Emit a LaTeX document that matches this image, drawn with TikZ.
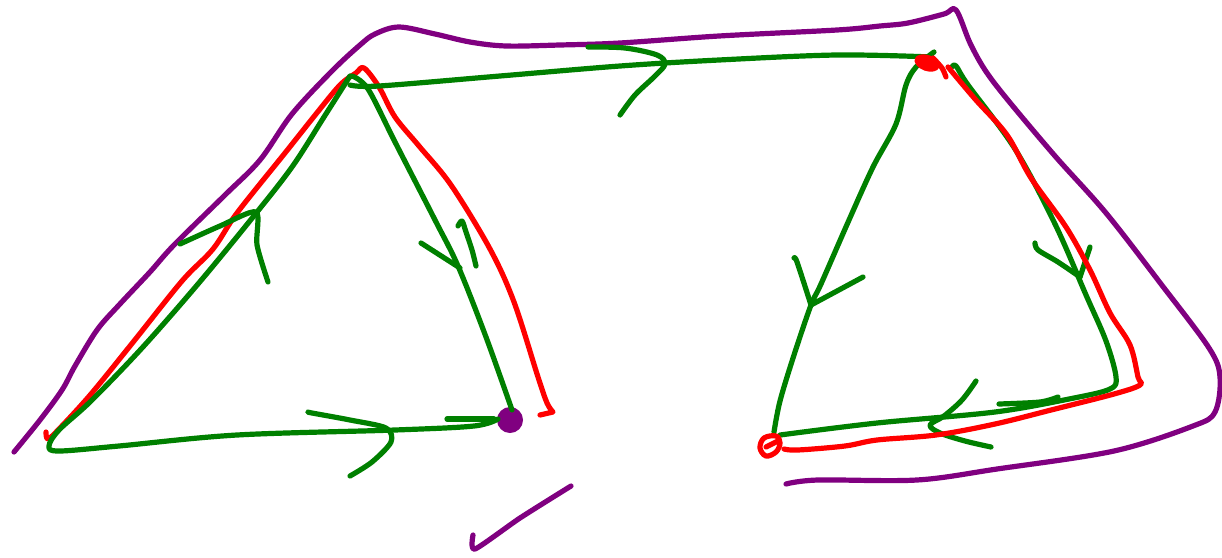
\documentclass[tikz,border=0pt]{standalone}
\definecolor{pgreen}{RGB}{0,128,0}
\definecolor{pred}{RGB}{255,0,0}
\definecolor{ppurple}{RGB}{128,0,128}
\tikzset{
  ink/.style={line width=5.2pt, line cap=round, line join=round},
  gstroke/.style={ink, draw=pgreen},
  rstroke/.style={ink, draw=pred},
  pstroke/.style={ink, draw=ppurple},
}
\begin{document}
\begin{tikzpicture}[x=1pt,y=-1pt]
\useasboundingbox[fill=white] (0,0) rectangle (1222,557);
% purple outline
\draw[pstroke] plot[smooth,tension=0.55] coordinates {(14,452) (40,420) (62,390) (75,366) (97,330) (119,305) (150,272) (174,245) (225,195) (260,160) (292,114) (332,71) (360,45) (375,34) (399,27) (435,34) (470,42) (506,46) (560,45) (620,43) (719,36) (837,30) (880,26) (908,23) (944,14) (956,10) (970,43) (985,70) (1007,99) (1055,156) (1106,213) (1161,284) (1209,348) (1220,377) (1215,412) (1193,426) (1114,451) (997,469) (917,480) (818,480) (786,484)};
% purple check
\draw[pstroke] plot[smooth,tension=0.4] coordinates {(473,535) (475,549) (520,518) (571,486)};
% purple dot
\node[circle, fill=ppurple, minimum size=26pt, inner sep=0pt] (dot) at (510,420) {};
% red left
\draw[rstroke] plot[smooth,tension=0.55] coordinates {(46,432) (48,439) (60,428) (91,394) (134,341) (182,281) (213,249) (237,213) (285,153) (316,114) (340,85) (356,73) (364,68) (379,87) (395,117) (419,146) (451,185) (490,249) (514,302) (538,377) (547,403) (553,412)} -- (540,415);
% green left triangle
\draw[gstroke] plot[smooth,tension=0.55] coordinates {(350,76) (324,117) (292,167) (253,217) (198,284) (142,348) (91,401) (59,430) (49,446) (59,451) (119,446) (237,435) (395,430) (474,426) (498,419)};
\draw[gstroke] plot[smooth,tension=0.55] coordinates {(512,410) (486,337) (458,266) (435,220) (395,142) (368,89) (352,76)};
\draw[gstroke] plot[smooth,tension=0.55] coordinates {(350,85) (379,86) (500,76) (620,66) (719,60) (837,55) (932,57)};
% arrows left part
\draw[gstroke] plot[smooth,tension=0.55] coordinates {(588,47) (625,48) (657,55) (665,64) (655,76) (635,95) (620,115)};
\draw[gstroke] plot[smooth,tension=0.45] coordinates {(180,244) (220,226) (256,212) (257,245) (268,282)};
\draw[gstroke] (421,243) -- (460,268);
\draw[gstroke] plot[smooth,tension=0.5] coordinates {(458,226) (462,221) (466,232) (472,250) (476,266)};
\draw[gstroke] plot[smooth,tension=0.5] coordinates {(308,412) (312,413) (350,420) (386,428) (391,442) (372,462) (350,476)};
\draw[gstroke] (447,419) -- (494,419);
% green right triangle
\draw[gstroke] plot[smooth,tension=0.55] coordinates {(934,52) (916,67) (906,85) (896,124) (873,167) (849,220) (821,284) (811,305) (794,355) (780,401) (774,432)};
\draw[gstroke] plot[smooth,tension=0.55] coordinates {(952,67) (956,66) (968,85) (1015,149) (1055,224) (1086,295) (1106,341) (1116,377) (1110,389) (1074,398) (995,412) (877,423) (780,435)};
\draw[gstroke] plot[smooth,tension=0.5] coordinates {(794,258) (797,262) (811,305)};
\draw[gstroke] plot[smooth,tension=0.5] coordinates {(811,305) (837,291) (863,277)};
\draw[gstroke] plot[smooth,tension=0.5] coordinates {(1035,243) (1038,250) (1058,262) (1080,277)};
\draw[gstroke] (1090,247) -- (1080,277);
\draw[gstroke] plot[smooth,tension=0.55] coordinates {(976,381) (962,400) (944,416) (930,425) (940,433) (965,441) (991,447)};
\draw[gstroke] plot[smooth,tension=0.5] coordinates {(999,404) (1040,402) (1058,397)};
% red right
\draw[rstroke] plot[smooth,tension=0.55] coordinates {(948,67) (975,99) (1007,135) (1031,178) (1066,227) (1090,270) (1110,313) (1130,345) (1138,377) (1140,385) (1114,394) (1055,409) (995,424) (936,435) (877,440) (845,446) (798,450) (784,449)};
\fill[pred, rotate around={-20:(927,63)}] (927,63) ellipse [x radius=13pt, y radius=8pt];
\draw[rstroke] plot[smooth,tension=0.5] coordinates {(933,58) (942,68) (946,77)};
\draw[rstroke] plot[smooth cycle,tension=0.6] coordinates {(776,436) (764,438) (760,448) (766,456) (776,452) (780,443)};
\draw[rstroke] (766,447) -- (778,441);
\end{tikzpicture}
\end{document}
